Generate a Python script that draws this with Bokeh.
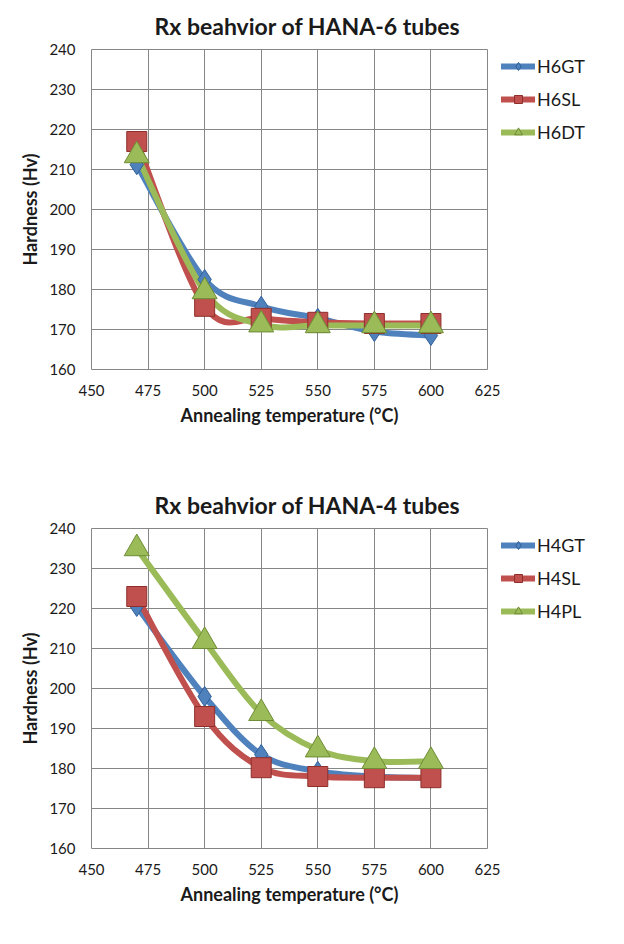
from bokeh.plotting import figure
from bokeh.layouts import column
from bokeh.models import Legend, LegendItem, Title, FixedTicker, Range1d
from bokeh.embed import file_html
from bokeh.resources import INLINE

temps = [470, 500, 525, 550, 575, 600]

h6_names = ["H6GT", "H6SL", "H6DT"]
h6gt = [211.2, 182.5, 175.8, 172.8, 169.5, 168.5]
h6sl = [217.0, 175.8, 172.8, 171.8, 171.5, 171.5]
h6dt = [213.5, 179.5, 171.2, 171.0, 171.0, 171.0]

h4_names = ["H4GT", "H4SL", "H4PL"]
h4gt = [220.5, 198.0, 183.5, 179.3, 178.0, 177.6]
h4sl = [223.0, 193.0, 180.2, 178.0, 177.7, 177.7]
h4pl = [235.0, 211.8, 193.8, 184.7, 181.8, 181.8]

chart_titles = ["Rx beahvior of HANA-6 tubes", "Rx beahvior of HANA-4 tubes"]
x_title = "Annealing temperature (\u00b0C)"
y_title = "Hardness (Hv)"
x_ticks = [450, 475, 500, 525, 550, 575, 600, 625]
y_ticks = [160, 170, 180, 190, 200, 210, 220, 230, 240]

colors = ["#4F81BD", "#C0504D", "#9BBB59"]
edges = ["#2F5F98", "#8E2F2C", "#6E8C35"]
markers = ["diamond", "square", "triangle"]
msizes = [20, 20, 25]
key_sizes = [14, 13, 16]

FONT = "Lato"


def smooth_segments(xs, ys):
    n = len(xs)
    seg = dict(x0=[], y0=[], x1=[], y1=[], cx0=[], cy0=[], cx1=[], cy1=[])
    for i in range(n - 1):
        xp = xs[i - 1] if i > 0 else xs[i]
        yp = ys[i - 1] if i > 0 else ys[i]
        xn = xs[i + 2] if i + 2 < n else xs[i + 1]
        yn = ys[i + 2] if i + 2 < n else ys[i + 1]
        seg["x0"].append(xs[i]); seg["y0"].append(ys[i])
        seg["x1"].append(xs[i + 1]); seg["y1"].append(ys[i + 1])
        seg["cx0"].append(xs[i] + (xs[i + 1] - xp) / 6.0)
        seg["cy0"].append(ys[i] + (ys[i + 1] - yp) / 6.0)
        seg["cx1"].append(xs[i + 1] - (xn - xs[i]) / 6.0)
        seg["cy1"].append(ys[i + 1] - (yn - ys[i]) / 6.0)
    return seg


def make_chart(title, names, series, bottom):
    p = figure(frame_width=396, frame_height=320, output_backend="svg",
               toolbar_location=None,
               x_range=Range1d(450, 625), y_range=Range1d(160, 240),
               min_border_left=91, min_border_right=121, min_border_top=47,
               min_border_bottom=bottom, background_fill_color="white",
               border_fill_color="white")
    t = Title(text=title, align="left", offset=63, text_font=FONT,
              text_font_size="23px", text_font_style="bold",
              text_color="#1a1a1a", standoff=19)
    p.add_layout(t, "above")
    p.outline_line_color = "#868686"
    p.outline_line_width = 1
    for ax in (p.xaxis[0], p.yaxis[0]):
        ax.axis_line_color = None
        ax.major_tick_line_color = None
        ax.minor_tick_line_color = None
        ax.major_tick_out = 0
        ax.major_tick_in = 0
        ax.minor_tick_out = 0
        ax.major_label_text_font = FONT
        ax.major_label_text_font_size = "15px"
        ax.major_label_text_color = "#1a1a1a"
        ax.axis_label_text_font = FONT
        ax.axis_label_text_font_size = "18px"
        ax.axis_label_text_font_style = "bold"
        ax.axis_label_text_color = "#1a1a1a"
        ax.axis_label_standoff = 5
    p.xaxis[0].major_label_standoff = 15
    p.yaxis[0].major_label_standoff = 16
    p.xaxis[0].ticker = FixedTicker(ticks=x_ticks)
    p.yaxis[0].ticker = FixedTicker(ticks=y_ticks)
    p.xaxis[0].axis_label = x_title
    p.yaxis[0].axis_label = y_title
    p.xgrid[0].ticker = FixedTicker(ticks=x_ticks)
    p.ygrid[0].ticker = FixedTicker(ticks=y_ticks)
    p.xgrid.grid_line_color = "#868686"
    p.ygrid.grid_line_color = "#868686"

    items = []
    for i, (name, ys) in enumerate(zip(names, series)):
        seg = smooth_segments(temps, ys)
        p.bezier(x0=seg["x0"], y0=seg["y0"], x1=seg["x1"], y1=seg["y1"],
                 cx0=seg["cx0"], cy0=seg["cy0"], cx1=seg["cx1"], cy1=seg["cy1"],
                 line_color=colors[i], line_width=6, line_cap="round")
    for i, (name, ys) in enumerate(zip(names, series)):
        key_line = p.line(x=temps[:1], y=ys[:1], line_color=colors[i], line_width=6,
                          line_cap="round")
        key_mark = p.scatter(x=temps[:1], y=ys[:1], marker=markers[i],
                             size=key_sizes[i], fill_color=colors[i],
                             line_color=edges[i], line_width=1)
        p.scatter(x=temps, y=ys, marker=markers[i], size=msizes[i],
                  fill_color=colors[i], line_color=edges[i], line_width=1)
        items.append(LegendItem(label=name, renderers=[key_line, key_mark]))
    leg = Legend(items=items, location=(14, 226), border_line_color=None,
                 background_fill_alpha=0, margin=0, padding=0,
                 glyph_width=34, glyph_height=20, label_height=20,
                 spacing=11, label_standoff=2,
                 label_text_font=FONT, label_text_font_size="18px",
                 label_text_color="#1a1a1a")
    p.add_layout(leg, "right")
    return p


p1 = make_chart(chart_titles[0], h6_names, [h6gt, h6sl, h6dt], 110)
p2 = make_chart(chart_titles[1], h4_names, [h4gt, h4sl, h4pl], 84)
layout = column(p1, p2, spacing=0)

open("out.html", "w").write(file_html(layout, INLINE))
